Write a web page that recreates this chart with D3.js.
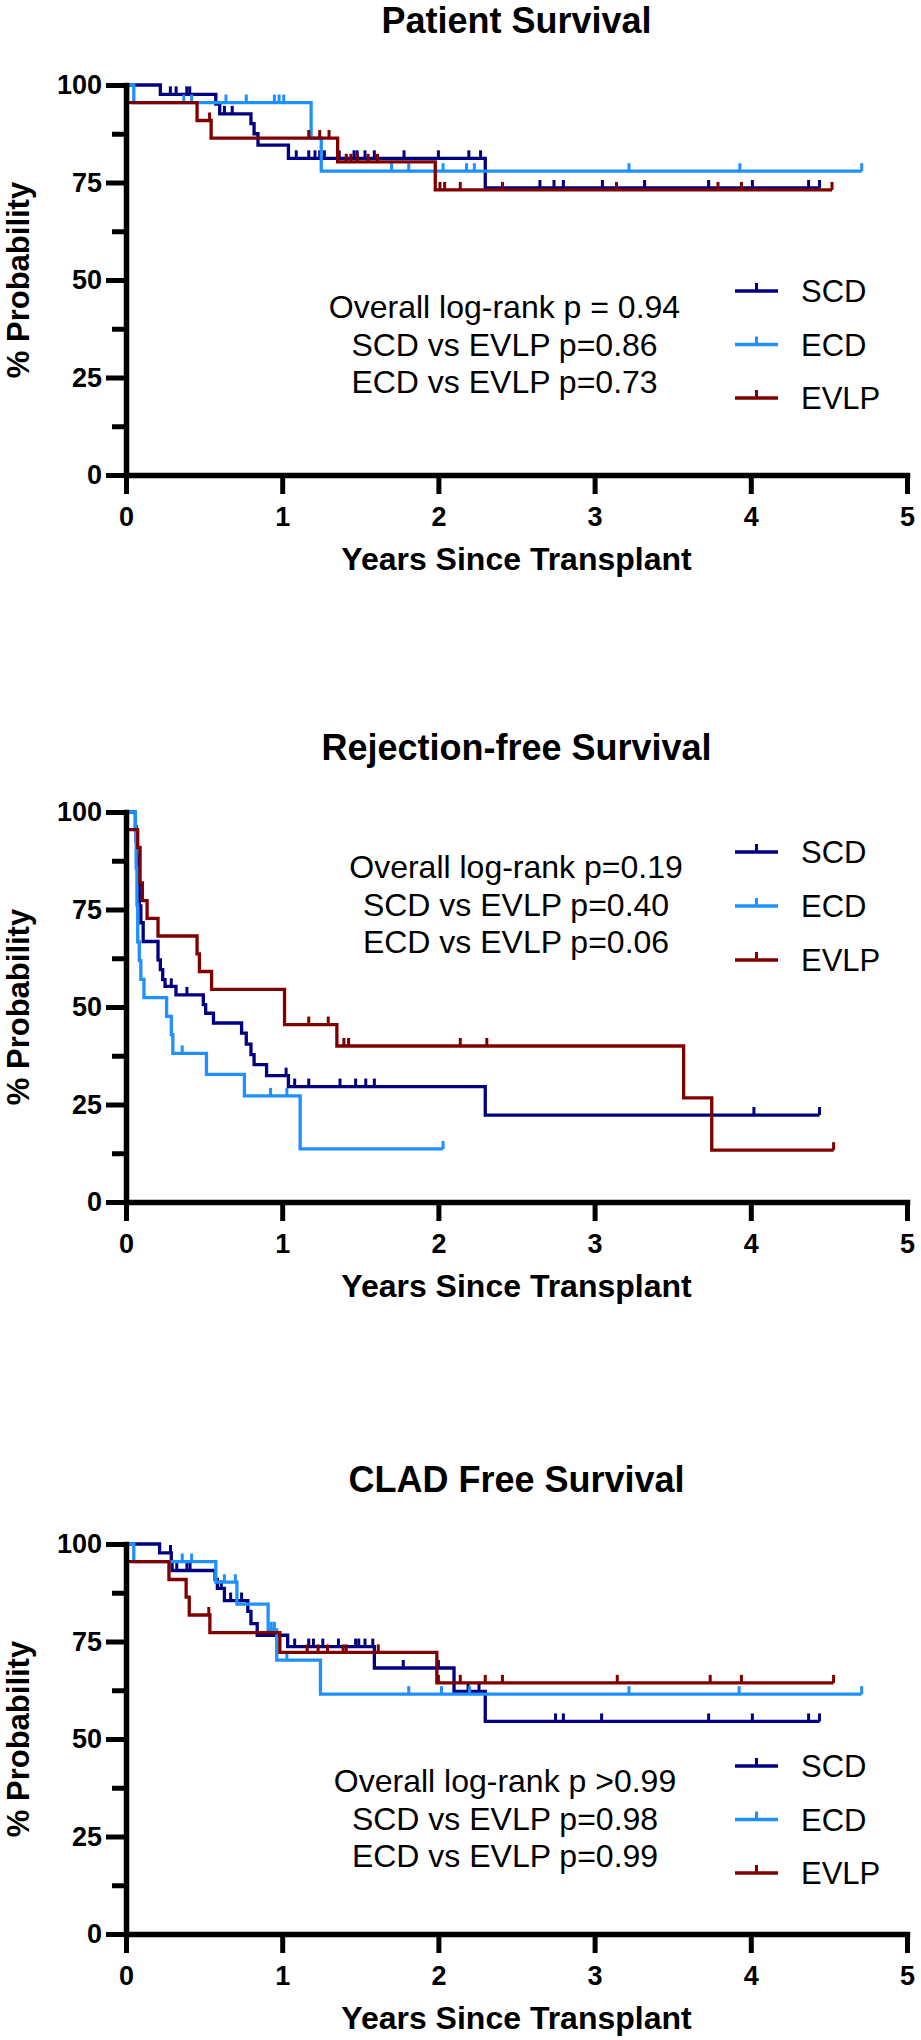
<!DOCTYPE html>
<html>
<head>
<meta charset="utf-8">
<script src="https://cdn.jsdelivr.net/npm/d3@7"></script>
<style>
  html, body { margin: 0; padding: 0; background: #fff; }
  svg { display: block; }
</style>
</head>
<body>
<div id="chart"></div>
<script>
// Kaplan-Meier panels — 3 stacked survival curves

const GROUPS  = ['SCD', 'ECD', 'EVLP'];
const X_TICKS = [0, 1, 2, 3, 4, 5];
const Y_TICKS = [0, 25, 50, 75, 100];
const Y_MINOR = [12.5, 37.5, 62.5, 87.5];

// ---- Patient Survival ----
const patSCD_t  = [0.22, 0.575, 0.60, 0.80, 0.82, 0.845, 1.04, 2.30];
const patSCD_s  = [97.6, 95.1, 92.6, 90.1, 87.5, 84.6, 81.2, 73.6];
const patSCD_c  = [0.284, 0.321, 0.389, 0.408, 0.63, 0.68, 1.09, 1.17, 1.21, 1.24, 1.27, 1.365, 1.46, 1.48, 1.53, 1.59, 1.78, 2.00, 2.195, 2.27, 2.65, 2.74, 2.80, 3.05, 3.32, 3.73, 4.01, 4.37, 4.44];
const patECD_t  = [0.05, 1.185, 1.25];
const patECD_s  = [95.5, 86.4, 77.9];
const patECD_c  = [0.37, 0.42, 0.64, 0.77, 0.95, 0.98, 1.01, 1.70, 1.81, 2.03, 2.18, 2.23, 3.22, 3.93, 4.71];
const patEVLP_t = [0.01, 0.455, 0.545, 1.355, 1.98];
const patEVLP_s = [95.5, 90.9, 86.4, 80.3, 73.1];
const patEVLP_c = [0.535, 1.17, 1.24, 1.30, 1.41, 1.44, 1.48, 1.55, 1.61, 2.01, 2.04, 2.14, 2.41, 3.14, 3.79, 3.94, 4.52];
const patNotes  = ['Overall log-rank p = 0.94', 'SCD vs EVLP p=0.86', 'ECD vs EVLP p=0.73'];

// ---- Rejection-free Survival ----
const rejSCD_t  = [0.06, 0.065, 0.07, 0.078, 0.085, 0.095, 0.11, 0.205, 0.22, 0.235, 0.25, 0.32, 0.495, 0.51, 0.56, 0.74, 0.77, 0.80, 0.82, 0.90, 1.04, 2.30];
const rejSCD_s  = [96.3, 92.6, 88.9, 81.5, 75.9, 71.6, 66.8, 62.1, 59.6, 57.0, 55.3, 53.1, 50.6, 48.4, 45.9, 43.3, 40.5, 37.8, 35.2, 32.4, 29.6, 22.3];
const rejSCD_c  = [0.29, 0.39, 1.025, 1.08, 1.17, 1.37, 1.47, 1.535, 1.59, 4.02, 4.44];
const rejECD_t  = [0.06, 0.065, 0.07, 0.075, 0.085, 0.095, 0.115, 0.26, 0.29, 0.30, 0.515, 0.758, 1.115];
const rejECD_s  = [95.2, 85.7, 76.2, 66.7, 61.9, 57.1, 52.4, 47.6, 42.9, 38.1, 32.7, 27.2, 13.6];
const rejECD_c  = [0.36, 0.925, 1.03, 2.03];
const rejEVLP_t = [0.005, 0.075, 0.09, 0.105, 0.135, 0.205, 0.455, 0.47, 0.548, 1.015, 1.35, 3.57, 3.75];
const rejEVLP_s = [95.5, 90.9, 81.8, 77.3, 72.7, 68.2, 63.6, 59.1, 54.5, 45.5, 40.0, 26.7, 13.3];
const rejEVLP_c = [1.17, 1.295, 1.395, 1.425, 2.14, 2.31, 4.53];
const rejNotes  = ['Overall log-rank p=0.19', 'SCD vs EVLP p=0.40', 'ECD vs EVLP p=0.06'];

// ---- CLAD Free Survival ----
const cladSCD_t  = [0.215, 0.29, 0.295, 0.57, 0.585, 0.63, 0.78, 0.80, 0.84, 1.035, 1.59, 2.10, 2.30];
const cladSCD_s  = [97.7, 95.5, 93.2, 90.9, 88.6, 85.5, 82.7, 79.6, 76.6, 73.7, 68.2, 62.2, 54.5];
const cladSCD_c  = [0.285, 0.325, 0.39, 0.41, 0.61, 0.67, 0.74, 1.08, 1.17, 1.20, 1.26, 1.36, 1.47, 1.49, 1.53, 1.58, 1.775, 2.00, 2.19, 2.26, 2.75, 2.80, 3.045, 3.73, 4.01, 4.37, 4.44];
const cladECD_t  = [0.05, 0.575, 0.71, 0.91, 0.965, 1.245];
const cladECD_s  = [95.5, 90.2, 84.6, 78.0, 70.2, 61.5];
const cladECD_c  = [0.36, 0.42, 0.63, 0.70, 0.93, 0.95, 1.03, 1.81, 2.02, 2.20, 3.22, 3.925, 4.71];
const cladEVLP_t = [0.005, 0.275, 0.385, 0.405, 0.537, 0.985, 1.99];
const cladEVLP_s = [95.5, 90.9, 86.4, 81.8, 77.3, 72.2, 64.4];
const cladEVLP_c = [0.53, 1.16, 1.23, 1.29, 1.39, 1.41, 1.615, 2.00, 2.14, 2.30, 2.41, 3.145, 3.74, 3.94, 4.53];
const cladNotes  = ['Overall log-rank p >0.99', 'SCD vs EVLP p=0.98', 'ECD vs EVLP p=0.99'];

const COLORS = { SCD: '#000080', ECD: '#1E90FF', EVLP: '#800000' };
const FONT   = "'Liberation Sans', Arial, Helvetica, sans-serif";

const W = 921, H = 2040;
const X0 = 126, X1 = 907, PH = 390;

const svg = d3.select('#chart').append('svg')
  .attr('width', W).attr('height', H)
  .attr('viewBox', `0 0 ${W} ${H}`);

svg.append('rect').attr('width', W).attr('height', H).attr('fill', '#fff');

function series(t, s, c) {
  return { t, s, c };
}

const PANELS = [
  {
    title: 'Patient Survival', y0: 475, noteX: 504.5, noteY: -157, legY: -184, legStep: 53.5,
    notes: patNotes,
    data: { SCD: series(patSCD_t, patSCD_s, patSCD_c), ECD: series(patECD_t, patECD_s, patECD_c), EVLP: series(patEVLP_t, patEVLP_s, patEVLP_c) }
  },
  {
    title: 'Rejection-free Survival', y0: 1202, noteX: 516, noteY: -324, legY: -350, legStep: 54,
    notes: rejNotes,
    data: { SCD: series(rejSCD_t, rejSCD_s, rejSCD_c), ECD: series(rejECD_t, rejECD_s, rejECD_c), EVLP: series(rejEVLP_t, rejEVLP_s, rejEVLP_c) }
  },
  {
    title: 'CLAD Free Survival', y0: 1934, noteX: 505, noteY: -142, legY: -168, legStep: 53.5,
    notes: cladNotes,
    data: { SCD: series(cladSCD_t, cladSCD_s, cladSCD_c), ECD: series(cladECD_t, cladECD_s, cladECD_c), EVLP: series(cladEVLP_t, cladEVLP_s, cladEVLP_c) }
  }
];

// survival value at time tt (step after)
function survAt(d, tt) {
  let v = 100;
  d.t.forEach((ti, i) => { if (ti <= tt) v = d.s[i]; });
  return v;
}

function renderPanel(p) {
  const x = d3.scaleLinear().domain([0, 5]).range([X0, X1]);
  const y = d3.scaleLinear().domain([0, 100]).range([p.y0, p.y0 - PH]);
  const g = svg.append('g');

  // Title
  g.append('text')
    .attr('x', (X0 + X1) / 2).attr('y', p.y0 - 442)
    .attr('text-anchor', 'middle')
    .attr('font-family', FONT).attr('font-size', '36px').attr('font-weight', 'bold')
    .attr('fill', '#000')
    .text(p.title);

  // Curves: SCD first, EVLP on top
  const line = d3.line().curve(d3.curveStepAfter).x(d => x(d[0])).y(d => y(d[1]));
  GROUPS.forEach(k => {
    const d   = p.data[k];
    const end = d3.max(d.c);
    const pts = [[0, 100]].concat(d.t.map((ti, i) => [ti, d.s[i]]));
    pts.push([end, d.s[d.s.length - 1]]);

    g.append('path')
      .attr('d', line(pts))
      .attr('fill', 'none')
      .attr('stroke', COLORS[k])
      .attr('stroke-width', 3.3)
      .attr('stroke-linejoin', 'miter');

    g.selectAll(null)
      .data(d.c).enter()
      .append('line')
      .attr('x1', c => x(c)).attr('x2', c => x(c))
      .attr('y1', c => y(survAt(d, c)))
      .attr('y2', c => y(survAt(d, c)) - 8)
      .attr('stroke', COLORS[k])
      .attr('stroke-width', 3);
  });

  // Y axis (minor ticks first)
  g.append('g')
    .attr('transform', `translate(${X0},0)`)
    .call(d3.axisLeft(y).tickValues(Y_MINOR).tickSize(14).tickSizeOuter(0).tickFormat(''))
    .call(a => a.select('.domain').remove())
    .call(a => a.selectAll('.tick line').attr('stroke', '#000').attr('stroke-width', 5));

  g.append('g')
    .attr('transform', `translate(${X0},0)`)
    .call(d3.axisLeft(y).tickValues(Y_TICKS).tickSize(20).tickSizeOuter(0).tickPadding(4).tickFormat(d3.format('d')))
    .call(a => a.select('.domain').attr('stroke', '#000').attr('stroke-width', 5.5).attr('stroke-linecap', 'square'))
    .call(a => a.selectAll('.tick line').attr('stroke', '#000').attr('stroke-width', 5))
    .call(a => a.selectAll('.tick text')
      .attr('fill', '#000').attr('font-size', '27px').attr('font-weight', 'bold')
      .attr('font-family', FONT));

  // X axis
  g.append('g')
    .attr('transform', `translate(0,${p.y0})`)
    .call(d3.axisBottom(x).tickValues(X_TICKS).tickSize(19).tickSizeOuter(0).tickPadding(13).tickFormat(d3.format('d')))
    .call(a => a.select('.domain').attr('stroke', '#000').attr('stroke-width', 5.5).attr('stroke-linecap', 'square'))
    .call(a => a.selectAll('.tick line').attr('stroke', '#000').attr('stroke-width', 5))
    .call(a => a.selectAll('.tick text')
      .attr('fill', '#000').attr('font-size', '27px').attr('font-weight', 'bold')
      .attr('font-family', FONT));

  // Axis titles
  g.append('text')
    .attr('x', (X0 + X1) / 2).attr('y', p.y0 + 95)
    .attr('text-anchor', 'middle')
    .attr('font-family', FONT).attr('font-size', '32px').attr('font-weight', 'bold')
    .text('Years Since Transplant');

  g.append('text')
    .attr('transform', `translate(29,${p.y0 - PH / 2}) rotate(-90)`)
    .attr('text-anchor', 'middle')
    .attr('font-family', FONT).attr('font-size', '31px').attr('font-weight', 'bold')
    .text('% Probability');

  // Log-rank annotations
  p.notes.forEach((txt, i) => {
    g.append('text')
      .attr('x', p.noteX).attr('y', p.y0 + p.noteY + i * 37.5)
      .attr('text-anchor', 'middle')
      .attr('font-family', FONT).attr('font-size', '32px')
      .text(txt);
  });

  // Legend
  GROUPS.forEach((k, i) => {
    const ly  = p.y0 + p.legY + i * p.legStep;
    const row = g.append('g');
    row.append('line')
      .attr('x1', 735).attr('x2', 778).attr('y1', ly).attr('y2', ly)
      .attr('stroke', COLORS[k]).attr('stroke-width', 3.5);
    row.append('line')
      .attr('x1', 756.5).attr('x2', 756.5).attr('y1', ly).attr('y2', ly - 8)
      .attr('stroke', COLORS[k]).attr('stroke-width', 3);
    row.append('text')
      .attr('x', 801).attr('y', ly + 11)
      .attr('font-family', FONT).attr('font-size', '31px')
      .text(k);
  });
}

PANELS.forEach(renderPanel);
</script>
</body>
</html>
